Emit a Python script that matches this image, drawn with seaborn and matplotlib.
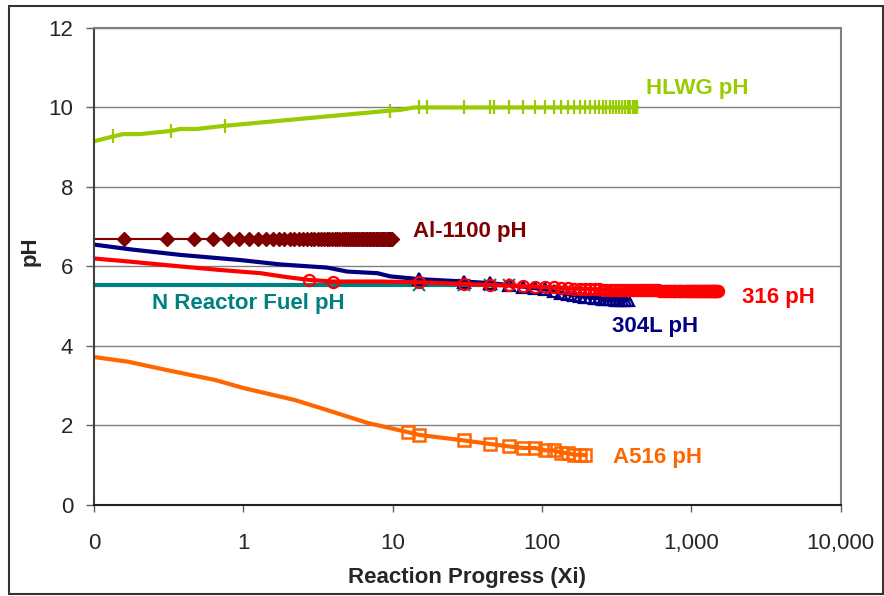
import matplotlib
matplotlib.use("Agg")
import matplotlib.pyplot as plt
import seaborn as sns
from matplotlib.patches import Rectangle
from matplotlib.ticker import NullLocator

# Werte (Reaktionsfortschritt Xi, pH)
hlwg_xi = [0.1, 0.134, 0.157, 0.204, 0.327, 0.378, 0.489, 0.757, 9.55, 11.3, 13.9,
           15, 17, 30, 45, 48, 60, 75, 90, 105, 120, 135, 150, 165, 180, 195, 210,
           225, 240, 255, 270, 285, 300, 315, 330, 345, 360, 375, 390, 405, 420, 435]
hlwg_ph = [9.15, 9.27, 9.33, 9.33, 9.41, 9.46, 9.46, 9.54, 9.92, 9.94, 10.0,
           10.0, 10.0, 10.0, 10.0, 10.0, 10.0, 10.0, 10.0, 10.0, 10.0, 10.0, 10.0, 10.0, 10.0, 10.0, 10.0,
           10.0, 10.0, 10.0, 10.0, 10.0, 10.0, 10.0, 10.0, 10.0, 10.0, 10.0, 10.0, 10.0, 10.0, 10.0]
hlwg_marks = [1, 4, 7, 8] + list(range(11, 42))

al_xi = [0.1, 0.16, 0.31, 0.47, 0.63, 0.79, 0.94, 1.10, 1.26, 1.41, 1.57,
         1.73, 1.88, 2.04, 2.20, 2.36, 2.51, 2.67, 2.83, 2.98, 3.14,
         3.30, 3.45, 3.61, 3.77, 3.93, 4.08, 4.24, 4.40, 4.55, 4.71,
         4.87, 5.02, 5.18, 5.34, 5.50, 5.65, 5.81, 5.97, 6.12, 6.28,
         6.44, 6.59, 6.75, 6.91, 7.07, 7.22, 7.38, 7.54, 7.69, 7.85,
         8.01, 8.16, 8.32, 8.48, 8.64, 8.79, 8.95, 9.11, 9.26, 9.42,
         9.58, 9.73, 9.89]
al_ph = [6.7, 6.7, 6.7, 6.7, 6.7, 6.7, 6.7, 6.7, 6.7, 6.7, 6.7,
         6.7, 6.7, 6.7, 6.7, 6.7, 6.7, 6.7, 6.7, 6.7, 6.7,
         6.7, 6.7, 6.7, 6.7, 6.7, 6.7, 6.7, 6.7, 6.7, 6.7,
         6.7, 6.7, 6.7, 6.7, 6.7, 6.7, 6.7, 6.7, 6.7, 6.7,
         6.7, 6.7, 6.7, 6.7, 6.7, 6.7, 6.7, 6.7, 6.7, 6.7,
         6.7, 6.7, 6.7, 6.7, 6.7, 6.7, 6.7, 6.7, 6.7, 6.7,
         6.7, 6.7, 6.7]

nr_xi = [0.1, 15, 30, 45, 60]
nr_ph = [5.53, 5.53, 5.53, 5.53, 5.53]

s304_xi = [0.1, 0.175, 0.378, 0.955, 1.77, 3.65, 4.97, 7.9, 9.6,
           15, 30, 45, 60, 75, 90, 105, 120, 135, 150,
           165, 180, 195, 210, 225, 240, 255, 270, 285, 300,
           315, 330, 345, 360, 375]
s304_ph = [6.55, 6.43, 6.29, 6.16, 6.05, 5.97, 5.87, 5.83, 5.75,
           5.68, 5.62, 5.58, 5.53, 5.49, 5.45, 5.42, 5.37, 5.33, 5.30,
           5.28, 5.26, 5.24, 5.22, 5.21, 5.20, 5.19, 5.18, 5.17, 5.17,
           5.16, 5.16, 5.16, 5.16, 5.16]

s316_xi = [0.1, 0.175, 0.378, 0.70, 1.30, 1.96, 2.77, 3.96, 8.3,
           15, 30, 45, 60, 75, 90, 105, 120, 135, 150,
           165, 180, 195, 210, 225, 240, 255, 270, 285, 300,
           315, 330, 345, 360, 375, 390, 405, 420, 435, 450,
           465, 480, 495, 510, 525, 540, 555, 570, 585, 600,
           615, 630, 645, 660, 675, 690, 705, 720, 735, 750,
           765, 780, 795, 810, 825, 840, 855, 870, 885, 900,
           915, 930, 945, 960, 975, 990, 1005, 1020, 1035, 1050,
           1065, 1080, 1095, 1110, 1125, 1140, 1155, 1170, 1185, 1200,
           1215, 1230, 1245, 1260, 1275, 1290, 1305, 1320, 1335, 1350,
           1365, 1380, 1395, 1410, 1425, 1440, 1455, 1470, 1485, 1500]
s316_ph = [6.2, 6.12, 6.0, 5.91, 5.83, 5.73, 5.66, 5.62, 5.62,
           5.60, 5.56, 5.53, 5.52, 5.50, 5.49, 5.48, 5.47, 5.46, 5.45,
           5.44, 5.44, 5.43, 5.43, 5.42, 5.42, 5.41, 5.41, 5.40, 5.40,
           5.40, 5.40, 5.40, 5.40, 5.40, 5.40, 5.40, 5.40, 5.40, 5.40,
           5.40, 5.40, 5.40, 5.40, 5.40, 5.40, 5.40, 5.40, 5.40, 5.40,
           5.39, 5.39, 5.39, 5.39, 5.39, 5.39, 5.39, 5.39, 5.39, 5.39,
           5.39, 5.39, 5.39, 5.39, 5.39, 5.39, 5.39, 5.39, 5.39, 5.39,
           5.38, 5.38, 5.38, 5.38, 5.38, 5.38, 5.38, 5.38, 5.38, 5.38,
           5.38, 5.38, 5.38, 5.38, 5.38, 5.38, 5.38, 5.38, 5.38, 5.38,
           5.37, 5.37, 5.37, 5.37, 5.37, 5.37, 5.37, 5.37, 5.37, 5.37,
           5.37, 5.37, 5.37, 5.37, 5.37, 5.37, 5.37, 5.37, 5.37, 5.37]

a516_xi = [0.1, 0.17, 0.3, 0.65, 1.0, 2.2, 3.6, 6.8, 12.6, 15, 30, 45,
           60, 75, 90, 105, 120, 135, 150, 165, 180, 195]
a516_ph = [3.72, 3.6, 3.4, 3.14, 2.94, 2.64, 2.39, 2.06, 1.83, 1.76, 1.62, 1.53,
           1.47, 1.43, 1.43, 1.37, 1.37, 1.31, 1.30, 1.26, 1.26, 1.25]

x_ticks = [0.1, 1, 10, 100, 1000, 10000]
x_ticklabels = ['0', '1', '10', '100', '1,000', '10,000']
y_ticks = [0, 2, 4, 6, 8, 10, 12]

sns.set_style("white")
plt.rcParams['font.family'] = ['Liberation Sans', 'DejaVu Sans']

fig, ax = plt.subplots(figsize=(8.84, 5.96), dpi=100)
fig.subplots_adjust(left=0.1063, right=0.951, top=0.953, bottom=0.153)

# Linien mit Markern (markevery: nur dort Marker, wo im Original welche sind)
sns.lineplot(x=al_xi, y=al_ph, ax=ax, estimator=None, sort=False, color='#800000', lw=1.5,
             marker='D', ms=7.5, mec='#800000', mew=1, markevery=list(range(1, 64)))
sns.lineplot(x=hlwg_xi, y=hlwg_ph, ax=ax, estimator=None, sort=False, color='#99CC00', lw=3,
             marker='|', ms=10, mec='#99CC00', mew=1.6, markevery=hlwg_marks)
sns.lineplot(x=a516_xi, y=a516_ph, ax=ax, estimator=None, sort=False, color='#FF6600', lw=3,
             marker='s', ms=8, mfc='none', mec='#FF6600', mew=1.8, markevery=list(range(8, 22)))
sns.lineplot(x=nr_xi, y=nr_ph, ax=ax, estimator=None, sort=False, color='#008080', lw=3,
             marker='x', ms=9, mec='#008080', mew=1.5, markevery=[1, 2, 3, 4])
sns.lineplot(x=s304_xi, y=s304_ph, ax=ax, estimator=None, sort=False, color='#000080', lw=3,
             marker='^', ms=8, mfc='none', mec='#000080', mew=1.6, markevery=list(range(9, 34)))
sns.lineplot(x=s316_xi, y=s316_ph, ax=ax, estimator=None, sort=False, color='#FF0000', lw=3,
             marker='o', ms=8, mfc='none', mec='#FF0000', mew=1.6, markevery=[6, 7] + list(range(9, 109)))

ax.set_xscale('log')
ax.set_xlim(0.1, 10000)
ax.set_ylim(0, 12)
ax.set_xticks(x_ticks)
ax.set_xticklabels(x_ticklabels)
ax.xaxis.set_minor_locator(NullLocator())
ax.set_yticks(y_ticks)

ax.yaxis.grid(True, color='#808080', lw=1)
ax.xaxis.grid(False)
for side in ['top', 'right']:
    ax.spines[side].set_color('#808080')
    ax.spines[side].set_linewidth(1.5)
ax.spines['left'].set_color('#404040')
ax.spines['left'].set_linewidth(1.5)
ax.spines['bottom'].set_color('#202020')
ax.spines['bottom'].set_linewidth(1.5)

ax.tick_params(axis='x', direction='out', length=5, width=1, color='#606060',
               labelsize=16, pad=15, bottom=True)
ax.tick_params(axis='y', direction='out', length=6, width=1, color='#606060',
               labelsize=16, pad=9, left=True)

# Beschriftung
ax.set_xlabel('Reaction Progress (Xi)', fontsize=16, fontweight='bold')
ax.set_ylabel('pH', fontsize=16, fontweight='bold')
ax.xaxis.set_label_coords(0.5, -0.13)
ax.yaxis.set_label_coords(-0.072, 0.532)

lab = dict(fontsize=16, fontweight='bold', va='center', ha='left')
ax.text(499, 10.49, 'HLWG pH', color='#99CC00', **lab)
ax.text(13.6, 6.87, 'Al-1100 pH', color='#800000', **lab)
ax.text(0.245, 5.06, 'N Reactor Fuel pH', color='#008080', **lab)
ax.text(2168, 5.21, '316 pH', color='#FF0000', **lab)
ax.text(295, 4.50, '304L pH', color='#000080', **lab)
ax.text(300, 1.18, 'A516 pH', color='#FF6600', **lab)

# Rahmen um die ganze Grafik
fig.patches.append(Rectangle((0.010, 0.004), 0.989, 0.986, transform=fig.transFigure,
                             fill=False, lw=1.5, ec='#333333'))

plt.savefig("out.png", dpi=100)
